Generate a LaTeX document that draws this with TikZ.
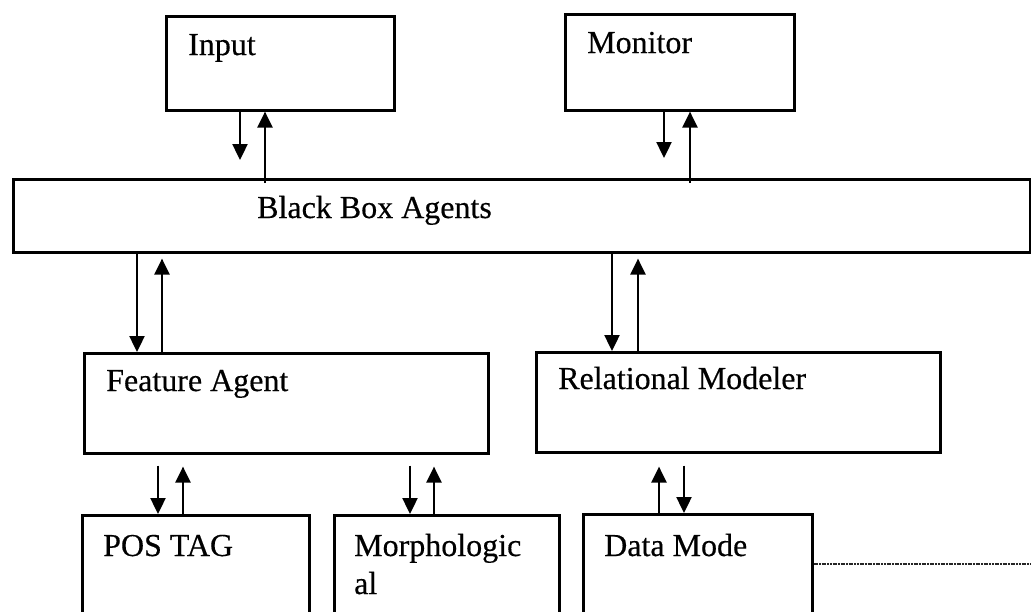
\documentclass[tikz,border=0pt]{standalone}
\usepackage{fontspec}
\setmainfont[FakeBold=0.4]{Liberation Serif}
\usetikzlibrary{arrows.meta,calc}
\newcommand\blockfont{\fontsize{32pt}{38pt}\selectfont}
\tikzset{
  box/.style={draw, line width=2.6pt, rectangle, inner sep=0pt, anchor=north west},
  lbl/.style={anchor=base west, inner sep=0pt, font=\blockfont},
  arr/.style={line width=2.4pt, -{Triangle[length=16pt,width=15pt]}},
  link/.style={line width=2.4pt, dash pattern=on 2pt off 0.7pt, black!85}
}
\begin{document}
\begin{tikzpicture}[x=1pt,y=-1pt]
\useasboundingbox (0,0) rectangle (1031,611);
\fill[white] (0,0) rectangle (1031,611);
\clip (0,0) rectangle (1031,611);

% blocks
\node[box, minimum width=228pt, minimum height=94pt] (inp) at (165,15) {};
\node[box, minimum width=229pt, minimum height=96pt] (mon) at (564,13) {};
\node[box, minimum width=1017pt, minimum height=73pt] (bba) at (12,178) {};
\node[box, minimum width=404pt, minimum height=100pt] (fa) at (83,352) {};
\node[box, minimum width=404pt, minimum height=100pt] (rm) at (535,351) {};
\node[box, minimum width=227pt, minimum height=140pt] (pos) at (81,514) {};
\node[box, minimum width=225pt, minimum height=140pt] (mor) at (333,514) {};
\node[box, minimum width=229pt, minimum height=140pt] (dm) at (582,513) {};

% block labels
\node[lbl] (tinp) at (188,55) {Input};
\node[lbl] (tmon) at (587,53) {Monitor};
\node[lbl] (tbba) at (257,218) {Black Box Agents};
\node[lbl] (tfa) at (106,391) {Feature Agent};
\node[lbl] (trm) at (558,389) {Relational Modeler};
\node[lbl] (tpos) at (103,556) {POS TAG};
\node[lbl] (tmor) at (354,556) {Morphologic};
\node[lbl] (tmor2) at (354,594) {al};
\node[lbl] (tdm) at (604,556) {Data Mode};

% horizontal positions of the connector pairs
\foreach \x in {137,158,162,183,240,265,410,434,612,638,659,664,684,690}
  \coordinate (x\x) at (\x,0);

% free ends of the short downward arrows
\coordinate (inpdn) at (240,160);
\coordinate (mondn) at (664,158);

% Input <-> Black Box Agents
\draw[arr] (inp.south -| inpdn) -- (inpdn);
\draw[arr] ($(bba.north -| x265)+(0,5)$) -- (inp.south -| x265);
% Monitor <-> Black Box Agents
\draw[arr] (mon.south -| mondn) -- (mondn);
\draw[arr] ($(bba.north -| x690)+(0,5)$) -- (mon.south -| x690);
% Black Box Agents <-> Feature Agent
\draw[arr] (bba.south -| x137) -- (fa.north -| x137);
\draw[arr] (fa.north -| x162) -- ($(bba.south -| x162)+(0,5)$);
% Black Box Agents <-> Relational Modeler
\draw[arr] (bba.south -| x612) -- (rm.north -| x612);
\draw[arr] (rm.north -| x638) -- ($(bba.south -| x638)+(0,5)$);
% Feature Agent <-> POS TAG
\draw[arr] ($(fa.south -| x158)+(0,11)$) -- (pos.north -| x158);
\draw[arr] (pos.north -| x183) -- ($(fa.south -| x183)+(0,12)$);
% Feature Agent <-> Morphological
\draw[arr] ($(fa.south -| x410)+(0,11)$) -- (mor.north -| x410);
\draw[arr] (mor.north -| x434) -- ($(fa.south -| x434)+(0,12)$);
% Relational Modeler <-> Data Mode
\draw[arr] (dm.north -| x659) -- ($(rm.south -| x659)+(0,13)$);
\draw[arr] ($(rm.south -| x684)+(0,12)$) -- (dm.north -| x684);

% link leaving Data Mode to the right
\coordinate (dmout) at (1040,564);
\draw[link] (dm.east |- dmout) -- (dmout);
\end{tikzpicture}
\end{document}
